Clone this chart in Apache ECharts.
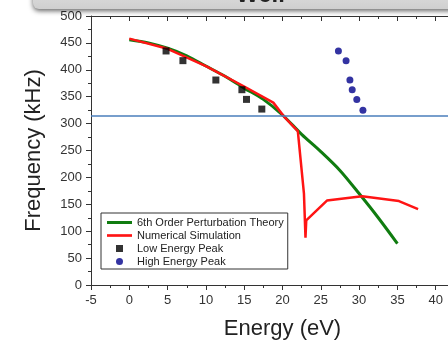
<!DOCTYPE html>
<html>
<head>
<meta charset="utf-8">
<script src="https://cdn.jsdelivr.net/npm/echarts@6/dist/echarts.min.js"></script>
<style>
  html, body { margin: 0; padding: 0; background: #fff; }
  #chart { width: 448px; height: 341px; }
</style>
</head>
<body>
<div id="chart"></div>
<script>
// Energy (eV) / frequency (kHz) pairs for each series
const theoryCurve = [
  [0, 456], [2.5, 450], [5, 440], [7.5, 426], [10, 407], [12.5, 388],
  [15, 366], [17.5, 345], [20, 316], [22.5, 280], [25, 248], [27.5, 213],
  [30, 170], [32.5, 125], [35, 77]
];
const simulationCurve = [
  [0, 458], [5, 439], [10, 407], [15, 369], [18.8, 339], [20.2, 313],
  [22.0, 286], [22.8, 170], [23.0, 88], [23.1, 120], [25.8, 157],
  [30.4, 165], [35.2, 156], [37.7, 141]
];
const lowEnergyPeak = [
  [4.8, 435], [7.0, 417], [11.3, 381], [14.7, 363], [15.3, 345], [17.3, 327]
];
const highEnergyPeak = [
  [27.3, 435], [28.3, 417], [28.8, 381], [29.1, 363], [29.7, 345], [30.5, 325]
];
const referenceLevel = 315;
const seriesNames = [
  '6th Order Perturbation Theory',
  'Numerical Simulation',
  'Low Energy Peak',
  'High Energy Peak'
];

const chart = echarts.init(document.getElementById('chart'), null, { renderer: 'canvas' });
const font = 'Liberation Sans, Arial, sans-serif';
const axisColor = '#333';

const xCommon = {
  type: 'value', min: -5, max: 45, interval: 5,
  axisLine: { onZero: false, lineStyle: { color: axisColor, width: 1 } },
  splitLine: { show: false },
  minorTick: { show: true, splitNumber: 2, length: 3, lineStyle: { color: axisColor } },
  minorSplitLine: { show: false }
};

chart.setOption({
  animation: false,
  backgroundColor: '#fff',
  textStyle: { fontFamily: font },
  // plot area runs past the right edge of the canvas
  grid: { left: 91, top: 16, width: 383, height: 269, outerBoundsMode: 'none', containLabel: false },
  graphic: [
    {
      type: 'rect', silent: true, z: 100,
      shape: { x: 33, y: -20, width: 440, height: 29, r: 6 },
      style: {
        fill: new echarts.graphic.LinearGradient(0, 0, 0, 1, [
          { offset: 0, color: '#e6e6e6' }, { offset: 1, color: '#cfcfcf' }
        ]),
        shadowBlur: 5, shadowColor: 'rgba(0,0,0,0.6)', shadowOffsetY: 2
      }
    },
    {
      type: 'text', silent: true, z: 101,
      left: 236, top: -17,
      style: { text: 'Well', font: 'bold 24px ' + font, fill: '#222' }
    }
  ],
  xAxis: [
    Object.assign({}, xCommon, {
      position: 'bottom',
      axisTick: { show: true, inside: false, length: 5, lineStyle: { color: axisColor } },
      axisLabel: { color: '#333', fontSize: 13, margin: 9, fontFamily: font },
      name: 'Energy (eV)', nameLocation: 'middle', nameGap: 33,
      nameTextStyle: { color: '#222', fontSize: 22, fontFamily: font }
    }),
    Object.assign({}, xCommon, {
      position: 'top',
      axisTick: { show: true, inside: true, length: 5, lineStyle: { color: axisColor } },
      minorTick: { show: true, splitNumber: 2, length: 3, lineStyle: { color: axisColor } },
      axisLabel: { show: false }
    })
  ],
  yAxis: {
    type: 'value', min: 0, max: 500, interval: 50,
    axisLine: { show: true, onZero: false, lineStyle: { color: axisColor, width: 1 } },
    axisTick: { show: true, inside: false, length: 5, lineStyle: { color: axisColor } },
    minorTick: { show: true, splitNumber: 2, length: 3, lineStyle: { color: axisColor } },
    splitLine: { show: false },
    axisLabel: { color: '#333', fontSize: 13, margin: 9, fontFamily: font },
    name: 'Frequency (kHz)', nameLocation: 'middle', nameGap: 46,
    nameTextStyle: { color: '#222', fontSize: 22, fontFamily: font }
  },
  legend: {
    orient: 'vertical', left: 101, top: 213,
    padding: [3, 4, 1, 6], itemGap: 0,
    itemWidth: 25, itemHeight: 7,
    borderColor: '#333', borderWidth: 1, borderRadius: 0,
    backgroundColor: '#fff',
    symbolKeepAspect: true,
    textStyle: { fontSize: 11, color: '#222', lineHeight: 13, fontFamily: font },
    data: [
      { name: seriesNames[0], icon: 'path://M0 0H30V3.6H0Z' },
      { name: seriesNames[1], icon: 'path://M0 0H30V3.2H0Z' },
      { name: seriesNames[2], icon: 'path://M0 0H10V10H0Z' },
      { name: seriesNames[3], icon: 'circle' }
    ]
  },
  series: [
    {
      name: seriesNames[0], type: 'line', data: theoryCurve,
      smooth: 0.3, showSymbol: false, symbol: 'none',
      lineStyle: { color: '#107c10', width: 3 }, itemStyle: { color: '#107c10' },
      z: 3,
      markLine: {
        silent: true, symbol: 'none', label: { show: false },
        lineStyle: { color: '#4a7ebb', width: 1.5, type: 'solid' },
        data: [{ yAxis: referenceLevel }]
      }
    },
    {
      name: seriesNames[1], type: 'line', data: simulationCurve,
      showSymbol: false, symbol: 'none',
      lineStyle: { color: '#ff1414', width: 2.5 }, itemStyle: { color: '#ff1414' },
      z: 4
    },
    {
      name: seriesNames[2], type: 'scatter', data: lowEnergyPeak,
      symbol: 'rect', symbolSize: 7, itemStyle: { color: '#000' }, z: 5
    },
    {
      name: seriesNames[3], type: 'scatter', data: highEnergyPeak,
      symbol: 'circle', symbolSize: 7, itemStyle: { color: '#00008b' }, z: 5
    }
  ]
});
</script>
</body>
</html>
